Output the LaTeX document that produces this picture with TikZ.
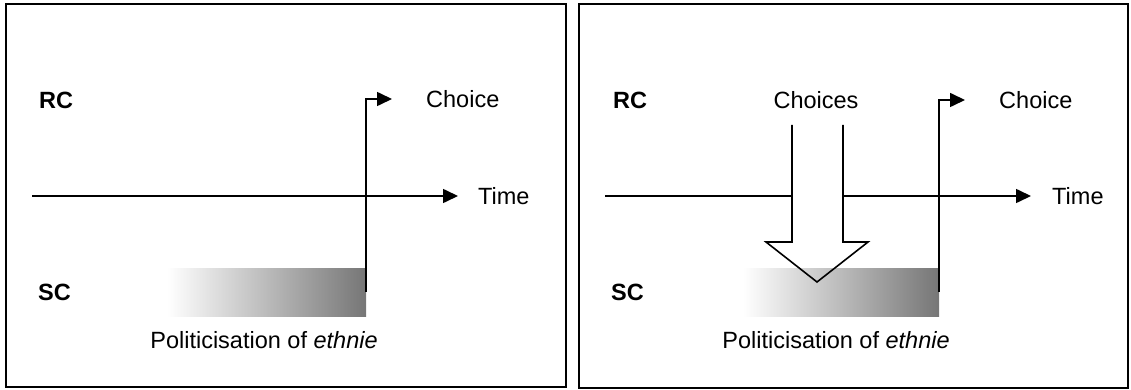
\documentclass[tikz,border=0pt]{standalone}
\usepackage{fontspec}
\setmainfont{Liberation Sans}
\usetikzlibrary{arrows.meta}
\definecolor{bargray}{RGB}{118,118,118}
\begin{document}
\begin{tikzpicture}[x=1pt,y=-1pt,
  panel/.style={draw=black,line width=2.2pt},
  axisline/.style={line width=1.6pt,-{Triangle[length=15pt,width=14pt]}},
  lbl/.style={inner sep=0pt,font=\fontsize{23.5}{28}\selectfont},
  rowlbl/.style={lbl,font=\fontsize{23.5}{28}\selectfont\bfseries},
  gradbar/.style={inner sep=0pt,outer sep=0pt,minimum width=199pt,minimum height=48pt,left color=white,right color=bargray,shading=axis,shading angle=90},
  blockarrow/.style={line width=1.6pt}]
\useasboundingbox (0,0) rectangle (1131,390);
% ---------- left panel ----------
\draw[panel] (6,4) rectangle (566,387);
\node[rowlbl,anchor=west] (rcL) at (39,100) {RC};
\node[rowlbl,anchor=west] (scL) at (38,292) {SC};
\coordinate (axL0) at (32,196);
\coordinate (axL1) at (458,196);
\draw[axisline] (axL0) -- (axL1);
\node[lbl,anchor=west] (timeL) at (478,196) {Time};
\node[gradbar,anchor=east] (barL) at (366,292) {};
\coordinate (chL) at (392,99);
\draw[axisline] (barL.east) |- (chL);
\node[lbl,anchor=west] (choiceL) at (426,99) {Choice};
\node[lbl] (polL) at (264,340) {Politicisation of \textit{ethnie}};
% ---------- right panel ----------
\draw[panel] (579,4) rectangle (1128,388);
\node[rowlbl,anchor=west] (rcR) at (613,100) {RC};
\node[rowlbl,anchor=west] (scR) at (611,292) {SC};
\coordinate (axR0) at (605,196);
\coordinate (axR1) at (1031,196);
\draw[axisline] (axR0) -- (axR1);
\node[lbl,anchor=west] (timeR) at (1052,196) {Time};
\node[lbl] (choicesR) at (816,100) {Choices};
% block arrow fill
\fill[white] (792,125) -- (792,242) -- (766,242) -- (817,282) -- (868,242) -- (843,242) -- (843,125) -- cycle;
\node[gradbar,anchor=east,minimum width=196pt] (barR) at (939,292) {};
\draw[blockarrow,line join=miter] (792,125) -- (792,242) -- (766,242) -- (817,282) -- (868,242) -- (843,242) -- (843,125);
\coordinate (chR) at (965,100);
\draw[axisline] (barR.east) |- (chR);
\node[lbl,anchor=west] (choiceR) at (999,100) {Choice};
\node[lbl] (polR) at (836,340) {Politicisation of \textit{ethnie}};
\end{tikzpicture}
\end{document}
